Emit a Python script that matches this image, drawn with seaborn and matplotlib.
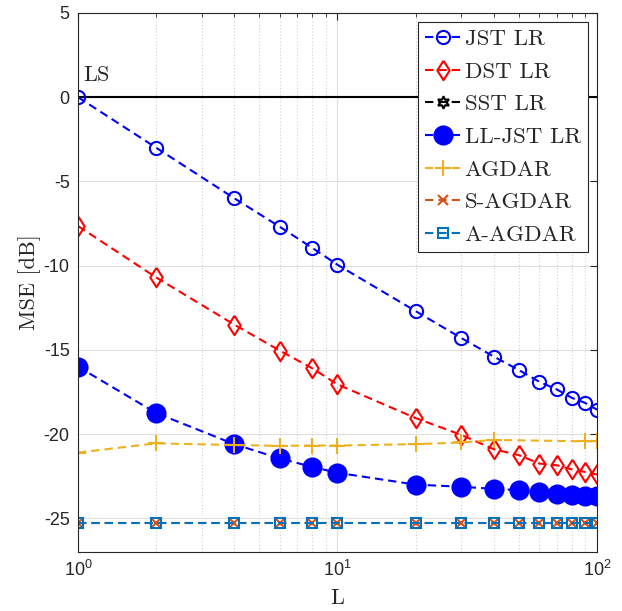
import numpy as np
import pandas as pd
import matplotlib
matplotlib.use("Agg")
import matplotlib.pyplot as plt
import seaborn as sns

# Window lengths L
L = [1, 2, 4, 6, 8, 10, 20, 30, 40, 50, 60, 70, 80, 90, 100]
L_agdar = [1, 2, 4, 6, 8, 10, 20, 30, 40, 90, 100]

# MSE in dB for each estimator
ls_mse = [0.0] * len(L)
jst_lr = [0.0, -3.0, -6.0, -7.7, -8.95, -9.95, -12.7, -14.3, -15.4, -16.2,
          -16.9, -17.35, -17.85, -18.15, -18.55]
dst_lr = [-7.65, -10.7, -13.5, -15.05, -16.1, -17.05, -19.05, -20.05, -20.9,
          -21.25, -21.75, -21.85, -22.1, -22.25, -22.4]
sst_lr = []  # no finite values inside the plotted range
lljst_lr = [-16.0, -18.75, -20.6, -21.45, -21.95, -22.3, -23.0, -23.13, -23.25,
            -23.33, -23.45, -23.55, -23.6, -23.65, -23.7]
agdar = [-21.1, -20.55, -20.65, -20.7, -20.68, -20.68, -20.6, -20.5, -20.35,
         -20.43, -20.43]
s_agdar = [-25.3] * len(L)
a_agdar = [-25.3] * len(L)

labels = ["JST LR", "DST LR", "SST LR", "LL-JST LR", "AGDAR", "S-AGDAR", "A-AGDAR"]

sns.set_style("white")
plt.rcParams["axes.unicode_minus"] = False
plt.rcParams["font.family"] = ["Liberation Sans", "DejaVu Sans"]

fig = plt.figure(figsize=(6.22, 6.11), dpi=100)
ax = fig.add_axes([0.1254, 0.0966, 0.8344, 0.8822])

dash = (0, (4, 2.4))
lw = 1.5
mew = 1.5

# diamond a bit narrower than it is tall
diamond = [(0, 1), (0.64, 0), (0, -1), (-0.64, 0), (0, 1)]

# LS reference level
sns.lineplot(x=L, y=ls_mse, ax=ax, color="black", lw=lw, linestyle="-",
             legend=False, label="_ls")

series = [
    (L, jst_lr, dict(color="blue", marker="o", markersize=9.5,
                     markerfacecolor="none", markeredgecolor="blue")),
    (L, dst_lr, dict(color="red", marker=diamond, markersize=14,
                     markerfacecolor="none", markeredgecolor="red")),
    (None, sst_lr, dict(color="black", marker=(6, 1, 0), markersize=9,
                        markerfacecolor="none", markeredgecolor="black")),
    (L, lljst_lr, dict(color="blue", marker="o", markersize=13,
                       markerfacecolor="blue", markeredgecolor="blue")),
    (L_agdar, agdar, dict(color="#EDB120", marker="+", markersize=11.5,
                          markerfacecolor="none", markeredgecolor="#EDB120")),
    (L, s_agdar, dict(color="#D95319", marker="x", markersize=7,
                      markerfacecolor="none", markeredgecolor="#D95319")),
    (L, a_agdar, dict(color="#0072BD", marker="s", markersize=7.5,
                      markerfacecolor="none", markeredgecolor="#0072BD")),
]

handles = []
for (xs, ys, style), lab in zip(series, labels):
    if len(ys):
        sns.lineplot(x=xs, y=ys, ax=ax, lw=lw, linestyle=dash,
                     markeredgewidth=mew, legend=False, label=lab, **style)
        handles.append(ax.get_lines()[-1])
    else:
        h, = ax.plot([], [], lw=lw, linestyle=dash, markeredgewidth=mew,
                     label=lab, **style)
        handles.append(h)

ax.set_xscale("log")
ax.set_xlim(1, 100)
ax.set_ylim(-27, 5)
ax.set_yticks([-25, -20, -15, -10, -5, 0, 5])

ax.grid(True, which="major", color="#DEDEDE", lw=0.8, ls="-")
ax.grid(True, which="minor", axis="x", color="#CFCFCF", lw=0.8, ls=(0, (1, 2)))
ax.set_axisbelow(True)

for s in ax.spines.values():
    s.set_color("#262626")
    s.set_linewidth(0.8)
ax.tick_params(which="both", direction="in", top=True, right=True,
               colors="#262626", labelsize=13)
ax.tick_params(which="major", length=5, width=0.8, pad=6)
ax.tick_params(which="minor", length=3, width=0.6)

serif = "cmr10"
ax.set_xlabel("L", family=serif, fontsize=16, labelpad=6)
ax.set_ylabel("MSE [dB]", family=serif, fontsize=16, labelpad=2)
ax.text(1.05, 0.7, "LS", family=serif, fontsize=16, va="bottom", ha="left")

leg = ax.legend(handles=handles, labels=labels, loc="upper right",
                prop={"family": serif, "size": 16.5}, frameon=True,
                fancybox=False, framealpha=1, edgecolor="#262626",
                handlelength=1.6, handletextpad=0.15, labelspacing=0.55,
                borderpad=0.3, borderaxespad=0.4)
leg.get_frame().set_linewidth(0.8)

fig.savefig("out.png", dpi=100)
